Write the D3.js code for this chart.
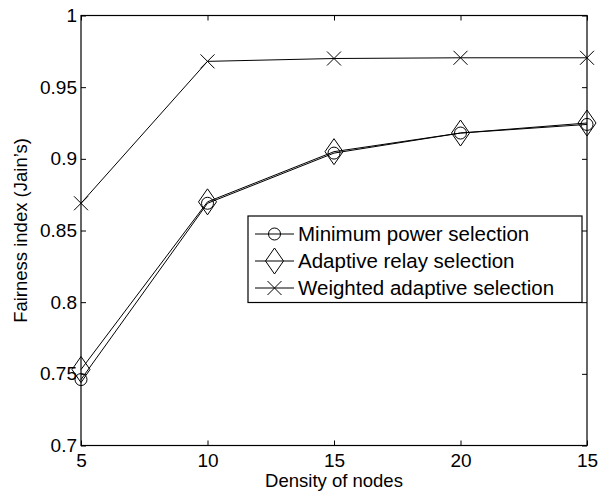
<!DOCTYPE html>
<html><head><meta charset="utf-8">
<script src="https://cdn.jsdelivr.net/npm/d3@7"></script>
<style>body{margin:0;background:#fff}svg{display:block}text{font-family:"Liberation Sans",Arial,sans-serif;fill:#000}</style>
</head><body>
<script>
const categories = ["5","10","15","20","15 "];
const xTickLabels = ["5","10","15","20","15"];
const yTicks = [0.7,0.75,0.8,0.85,0.9,0.95,1];
const minPower = [0.746,0.869,0.904,0.918,0.924];
const adaptive = [0.753,0.870,0.905,0.918,0.925];
const weighted = [0.869,0.968,0.970,0.9705,0.9705];
const seriesNames = ["Minimum power selection","Adaptive relay selection","Weighted adaptive selection"];

const W=599,H=496, m={l:81,r:12,t:15.5,b:50.5};
const svg=d3.select("body").append("svg").attr("width",W).attr("height",H);
const x=d3.scalePoint().domain(categories).range([m.l,W-m.r]);
const y=d3.scaleLinear().domain([0.7,1]).range([H-m.b,m.t]);
const L=m.l,R=W-m.r,T=m.t,B=H-m.b;

svg.append("rect").attr("x",L).attr("y",T).attr("width",R-L).attr("height",B-T).attr("fill","none").attr("stroke","#000").attr("stroke-width",1.2);

const tl=5;
const yAx=d3.axisLeft(y).tickValues(yTicks).tickFormat(d=>d===1?"1":String(d)).tickSizeInner(-tl).tickSizeOuter(0).tickPadding(4);
const gy=svg.append("g").attr("transform",`translate(${L},0)`).call(yAx);
gy.select(".domain").remove();
gy.selectAll("text").style("font-size","19px");
const gyR=svg.append("g").attr("transform",`translate(${R},0)`).call(d3.axisRight(y).tickValues(yTicks).tickSizeInner(-tl).tickSizeOuter(0).tickFormat(""));
gyR.select(".domain").remove();

const xAx=d3.axisBottom(x).tickFormat((d,i)=>xTickLabels[i]).tickSizeInner(-tl).tickSizeOuter(0).tickPadding(8);
const gx=svg.append("g").attr("transform",`translate(0,${B})`).call(xAx);
gx.select(".domain").remove();
gx.selectAll("text").style("font-size","19px");
const gxT=svg.append("g").attr("transform",`translate(0,${T})`).call(d3.axisTop(x).tickSizeInner(-tl).tickSizeOuter(0).tickFormat(""));
gxT.select(".domain").remove();

svg.append("text").attr("x",(L+R)/2).attr("y",487).attr("text-anchor","middle").style("font-size","18.5px").text("Density of nodes");
svg.append("text").attr("transform",`translate(27,${(T+B)/2}) rotate(-90)`).attr("text-anchor","middle").style("font-size","18.5px").text("Fairness index (Jain\u2019s)");

const line=d3.line().x((d,i)=>x(categories[i])).y(d=>y(d));
function marker(g,type,cx,cy){
  if(type==="o") g.append("circle").attr("cx",cx).attr("cy",cy).attr("r",6).attr("fill","none").attr("stroke","#000").attr("stroke-width",1);
  else if(type==="d"){const w=9,h=13;g.append("path").attr("d",`M${cx},${cy-h}L${cx+w},${cy}L${cx},${cy+h}L${cx-w},${cy}Z`).attr("fill","none").attr("stroke","#000").attr("stroke-width",1);}
  else {const a=7;g.append("path").attr("d",`M${cx-a},${cy-a}L${cx+a},${cy+a}M${cx-a},${cy+a}L${cx+a},${cy-a}`).attr("fill","none").attr("stroke","#000").attr("stroke-width",1);}
}
const series=[[minPower,"o"],[adaptive,"d"],[weighted,"x"]];
series.forEach(([vals,t])=>{
  svg.append("path").datum(vals).attr("d",line).attr("fill","none").attr("stroke","#000").attr("stroke-width",1);
  const g=svg.append("g");
  vals.forEach((v,i)=>marker(g,t,x(categories[i]),y(v)));
});

const lg=svg.append("g");
lg.append("rect").attr("x",248).attr("y",216).attr("width",334).attr("height",86.5).attr("fill","#fff").attr("stroke","#000").attr("stroke-width",1.2);
series.forEach(([vals,t],i)=>{
  const cy=234+i*27;
  lg.append("line").attr("x1",255).attr("x2",294).attr("y1",cy).attr("y2",cy).attr("stroke","#000");
  marker(lg,t,274.5,cy);
  lg.append("text").attr("x",298).attr("y",cy+6.5).style("font-size","20.5px").text(seriesNames[i]);
});
</script>
</body></html>
